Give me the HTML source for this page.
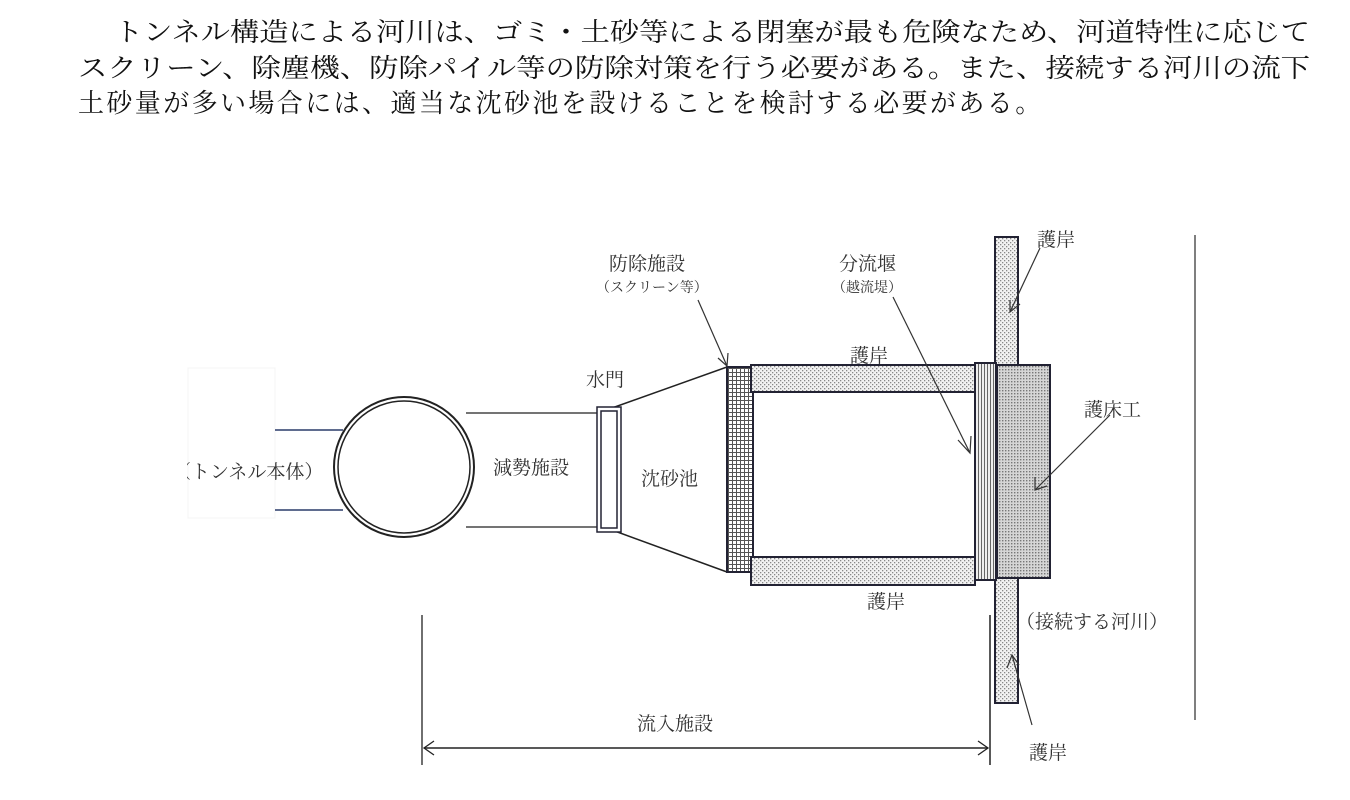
<!DOCTYPE html>
<html><head><meta charset="utf-8"><style>
html,body{margin:0;padding:0;background:#fff;}
svg{display:block;}
</style></head><body>
<svg width="1350" height="800" viewBox="0 0 1350 800" xmlns="http://www.w3.org/2000/svg">
<defs>
<pattern id="dots" width="4" height="4" patternUnits="userSpaceOnUse">
<rect width="4" height="4" fill="#f2f2f2"/><rect x="0" y="0" width="1.3" height="1.3" fill="#888"/><rect x="2" y="2" width="1.3" height="1.3" fill="#888"/>
</pattern>
<pattern id="dots2" width="3" height="3" patternUnits="userSpaceOnUse">
<rect width="3" height="3" fill="#d6d6d6"/><rect x="0" y="0" width="1.4" height="1.4" fill="#777"/>
</pattern>
<pattern id="grid" width="4" height="4" patternUnits="userSpaceOnUse">
<rect width="4" height="4" fill="#fff"/><path d="M0 0.5H4M0.5 0V4" stroke="#555" stroke-width="1"/>
</pattern>
<pattern id="vl" width="3" height="4" patternUnits="userSpaceOnUse">
<rect width="3" height="4" fill="#eee"/><path d="M0.5 0V4" stroke="#666" stroke-width="1"/>
</pattern>
</defs>
<g font-family="'Noto Serif CJK JP','Liberation Serif',serif" fill="#111" font-size="26">
<text x="114" y="41" textLength="1196" lengthAdjust="spacingAndGlyphs">トンネル構造による河川は、ゴミ・土砂等による閉塞が最も危険なため、河道特性に応じて</text>
<text x="78" y="77" textLength="1232" lengthAdjust="spacingAndGlyphs">スクリーン、除塵機、防除パイル等の防除対策を行う必要がある。また、接続する河川の流下</text>
<text y="112" x="78 106.4 134.8 163.2 191.6 220 248.4 276.8 305.2 333.6 362 390.4 418.8 447.2 475.6 504 532.4 560.8 589.2 617.6 646 674.4 702.8 731.2 759.6 788 816.4 844.8 873.2 901.6 930 958.4 986.8 1015.2 1043.6">土砂量が多い場合には、適当な沈砂池を設けることを検討する必要がある。</text>
</g>
<rect x="188" y="368" width="87" height="150" fill="#fff" stroke="#f4f4f4"/>
<line x1="275" y1="430" x2="343" y2="430" stroke="#2a3b6a" stroke-width="1.5"/>
<line x1="275" y1="510" x2="343" y2="510" stroke="#2a3b6a" stroke-width="1.5"/>
<text x="172" y="478" font-family="'Noto Serif CJK JP','Liberation Serif',serif" font-size="19" fill="#333">（トンネル本体）</text>
<rect x="160" y="440" width="27" height="50" fill="#fff"/>
<circle cx="404" cy="467" r="70" fill="#fff" stroke="#222" stroke-width="2"/>
<circle cx="404" cy="467" r="66" fill="none" stroke="#222" stroke-width="1.5"/>
<line x1="466" y1="413" x2="598" y2="413" stroke="#222" stroke-width="1.3"/>
<line x1="466" y1="527" x2="598" y2="527" stroke="#222" stroke-width="1.3"/>
<line x1="612" y1="408" x2="727" y2="367" stroke="#222" stroke-width="1.5"/>
<line x1="612" y1="530" x2="727" y2="572" stroke="#222" stroke-width="1.5"/>
<rect x="597" y="407" width="24" height="125" fill="#fff" stroke="#223" stroke-width="1.5"/>
<rect x="601" y="411" width="16" height="117" fill="#fff" stroke="#223" stroke-width="1.5"/>
<rect x="727" y="367" width="26" height="205" fill="url(#grid)" stroke="#223" stroke-width="2"/>
<rect x="751" y="365" width="224" height="27" fill="url(#dots)" stroke="#223" stroke-width="2"/>
<rect x="751" y="557" width="224" height="28" fill="url(#dots)" stroke="#223" stroke-width="2"/>
<rect x="995" y="237" width="23" height="466" fill="url(#dots)" stroke="#223" stroke-width="2"/>
<rect x="975" y="363" width="21" height="217" fill="url(#vl)" stroke="#223" stroke-width="2"/>
<rect x="997" y="365" width="53" height="213" fill="url(#dots2)" stroke="#223" stroke-width="2"/>
<line x1="1195" y1="235" x2="1195" y2="720" stroke="#555" stroke-width="1.5"/>
<line x1="422" y1="615" x2="422" y2="765" stroke="#222" stroke-width="1.3"/>
<line x1="990" y1="615" x2="990" y2="765" stroke="#222" stroke-width="1.5"/>
<line x1="424" y1="748" x2="988" y2="748" stroke="#222" stroke-width="1.5"/>
<path d="M434 741 L424 748 L434 755 M978 741 L988 748 L978 755" fill="none" stroke="#222" stroke-width="1.3"/>
<g stroke="#333" stroke-width="1.2" fill="none">
<line x1="698" y1="300" x2="727" y2="366"/><path d="M718 358 L727 366 L728 353"/>
<line x1="893" y1="297" x2="970" y2="453"/><path d="M958 440 L970 453 L971 436"/>
<line x1="1040" y1="248" x2="1010" y2="312"/><path d="M1010 300 L1010 312 L1020 304"/>
<line x1="1110" y1="415" x2="1035" y2="490"/><path d="M1035 477 L1035 490 L1047 486"/>
<line x1="1032" y1="725" x2="1012" y2="655"/><path d="M1007 668 L1012 655 L1019 665"/>
</g>
<g font-family="'Noto Serif CJK JP','Liberation Serif',serif" fill="#333" font-size="19">
<text x="586" y="386">水門</text>
<text x="493" y="474">減勢施設</text>
<text x="641" y="485">沈砂池</text>
<text x="609" y="270">防除施設</text>
<text x="839" y="270">分流堰</text>
<text x="850" y="362">護岸</text>
<text x="867" y="608">護岸</text>
<text x="1037" y="246">護岸</text>
<text x="1084" y="416">護床工</text>
<text x="1016" y="628">（接続する河川）</text>
<text x="1029" y="759">護岸</text>
<text x="637" y="730">流入施設</text>
<text x="596" y="292" font-size="14">（スクリーン等）</text>
<text x="832" y="292" font-size="14">（越流堤）</text>
</g>
</svg>
</body></html>
